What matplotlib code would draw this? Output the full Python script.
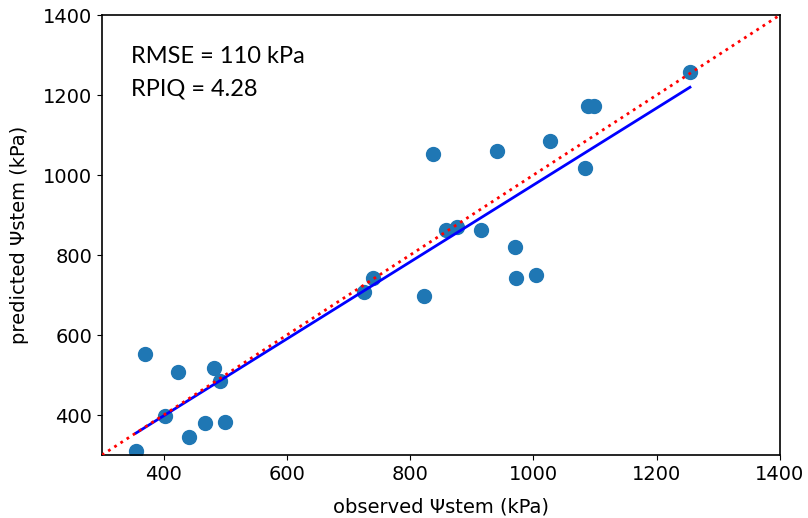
import numpy as np
import matplotlib
matplotlib.use("Agg")
import matplotlib.pyplot as plt

# observed vs predicted stem water potential (kPa)
observed = [355, 370, 402, 423, 441, 467, 482, 491, 500, 725, 740, 822, 837,
            858, 876, 915, 941, 970, 971, 1004, 1027, 1084, 1089, 1098, 1254]
predicted = [310, 552, 397, 507, 345, 380, 517, 485, 382, 707, 742, 697, 1052,
             862, 870, 862, 1060, 820, 742, 750, 1085, 1017, 1172, 1172, 1257]

rmse_text = 'RMSE = 110 kPa'
rpiq_text = 'RPIQ = 4.28'
xticks = [400, 600, 800, 1000, 1200, 1400]
yticks = [400, 600, 800, 1000, 1200, 1400]
lims = [300, 1400]

plt.rcParams['font.size'] = 14

fig = plt.figure(figsize=(8.08, 5.18), dpi=100)
ax = fig.add_axes([0.1262, 0.1216, 0.8391, 0.8494])

obs = np.array(observed)
pred = np.array(predicted)
slope, icpt = np.polyfit(obs, pred, 1)
xf = np.array([obs.min(), obs.max()])

ax.scatter(obs, pred, s=100, color='#1f77b4', zorder=2)
ax.plot(xf, slope*xf+icpt, color='blue', lw=2, zorder=3)
ax.plot(lims, lims, color='red', ls=':', lw=2, zorder=4)

ax.set_xlim(lims)
ax.set_ylim(lims)
ax.set_xticks(xticks)
ax.set_yticks(yticks)
ax.set_xlabel('observed \u03a8stem (kPa)', labelpad=10)
ax.set_ylabel('predicted \u03a8stem (kPa)', labelpad=10)
for s in ax.spines.values():
    s.set_linewidth(1.2)

ax.text(0.043, 0.891, rmse_text, transform=ax.transAxes, fontsize=17, family='Lato')
ax.text(0.043, 0.818, rpiq_text, transform=ax.transAxes, fontsize=17, family='Lato')

fig.savefig('out.png', dpi=100)
